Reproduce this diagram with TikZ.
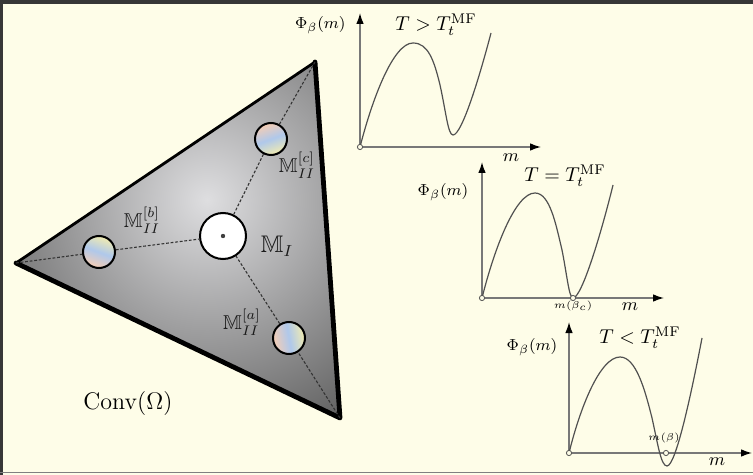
\documentclass[tikz,border=0pt]{standalone}
\usepackage{amssymb}
\usetikzlibrary{arrows.meta}
\definecolor{bg}{RGB}{254,253,232}
\definecolor{framec}{RGB}{55,55,55}
\definecolor{axisc}{RGB}{120,120,120}
\definecolor{curvec}{RGB}{80,80,80}
\definecolor{shinner}{RGB}{222,222,224}
\definecolor{shouter}{RGB}{95,95,95}
\definecolor{irA}{RGB}{245,205,180}
\definecolor{irB}{RGB}{175,200,235}
\definecolor{irC}{RGB}{242,236,175}
\tikzset{
  edgethin/.style={line width=1.4pt, line cap=round, line join=round},
  edgethick/.style={line width=2.4pt, line cap=round, line join=round},
  dashln/.style={line width=0.55pt, draw=black!80, dash pattern=on 1.4pt off 0.9pt},
  bigcirc/.style={circle, draw=black, line width=1pt, fill=white, minimum size=23pt, inner sep=0pt},
  smallcirc/.style={circle, draw=black, line width=1pt, minimum size=16pt, inner sep=0pt},
  irid/.style={top color=irA, bottom color=irC, middle color=irB, shading angle=#1},
  axisln/.style={draw=axisc, line width=0.7pt, -{Latex[length=5.5pt,width=3.8pt,color=black]}},
  curveln/.style={draw=curvec, line width=0.6pt},
  origdot/.style={circle, draw=curvec, line width=0.4pt, fill=bg, minimum size=2.6pt, inner sep=0pt},
  ttl/.style={font=\normalsize, inner sep=0pt},
  philbl/.style={font=\footnotesize, inner sep=0pt},
  mlbl/.style={font=\small, inner sep=0pt},
  tinylbl/.style={font=\fontsize{3.2}{4}\selectfont, inner sep=0pt},
  mlab/.style={font=\normalsize, inner sep=0pt, text=black!90}
}
\begin{document}
\begin{tikzpicture}[x=0.5pt,y=-0.5pt]
\useasboundingbox (0,0) rectangle (753,475);
\fill[bg] (0,0) rectangle (753,475);
% frame
\draw[framec, line width=2pt] (0,2) -- (753,2);
\draw[framec, line width=1.6pt] (1.6,0) -- (1.6,475);
\draw[black!50, line width=0.8pt] (0,472.5) -- (753,472.5);

% triangle
\coordinate (L) at (16,263);
\coordinate (T) at (315,62);
\coordinate (B) at (340,418);
\begin{scope}
  \clip (L) -- (T) -- (B) -- cycle;
  \shade[inner color=shinner, outer color=shouter] (207,200) circle (260);
\end{scope}
\draw[edgethin] (L) -- (T);
\draw[edgethick] (T) -- (B) -- (L);

% circles
\node[bigcirc] (MI) at (223,236) {};
\fill[black!75] (MI.center) circle (2.2);
\node[smallcirc, irid=20] (Mc) at (271,139) {};
\node[smallcirc, irid=160] (Mb) at (99,252) {};
\node[smallcirc, irid=100] (Ma) at (289,338) {};

\draw[dashln] (L) -- (Mb);
\draw[dashln] (Mb) -- (MI);
\draw[dashln] (T) -- (Mc);
\draw[dashln] (Mc) -- (MI);
\draw[dashln] (B) -- (Ma);
\draw[dashln] (Ma) -- (MI);

\node[mlab, font=\large] (lI) at (277,246) {$\mathbb{M}_I$};
\node[mlab] (lc) at (297,165) {$\mathbb{M}_{II}^{[c]}$};
\node[mlab] (lb) at (142,220) {$\mathbb{M}_{II}^{[b]}$};
\node[mlab] (la) at (242,322) {$\mathbb{M}_{II}^{[a]}$};
\node[font=\large, inner sep=0pt] (conv) at (128,403) {$\mathrm{Conv}(\Omega)$};

% plot 1
\coordinate (O1) at (360,147);
\coordinate (Y1) at (360,13);
\coordinate (X1) at (541,147);
\draw[axisln] (O1) -- (Y1);
\draw[axisln] (O1) -- (X1);
\draw[curveln] (O1) .. controls (372,100) and (393,43) .. (413,43)
  .. controls (428,43) and (434,60) .. (440,85)
  .. controls (446,112) and (448,135) .. (453,135)
  .. controls (462,135) and (480,75) .. (491,33);
\node[origdot] (o1) at (O1) {};
\node[philbl, anchor=east] (p1) at (346,25) {$\Phi_\beta(m)$};
\node[ttl] (t1) at (436,25) {$T > T_t^{\mathrm{MF}}$};
\node[mlbl] (m1) at (511,158) {$m$};

% plot 2
\coordinate (O2) at (482,298);
\coordinate (Y2) at (482,162);
\coordinate (X2) at (664,298);
\draw[axisln] (O2) -- (Y2);
\draw[axisln] (O2) -- (X2);
\draw[curveln] (O2) .. controls (494,250) and (515,193) .. (535,193)
  .. controls (550,193) and (556,225) .. (562,250)
  .. controls (567,275) and (569,298) .. (573,298)
  .. controls (582,298) and (602,230) .. (613,185);
\node[origdot] (o2) at (O2) {};
\node[origdot] (d2) at (573,298) {};
\node[philbl] (p2) at (443,192) {$\Phi_\beta(m)$};
\node[ttl] (t2) at (565,176) {$T = T_t^{\mathrm{MF}}$};
\node[mlbl] (m2) at (630,307) {$m$};
\node[tinylbl] (b2) at (573,306) {$m(\beta_c)$};

% plot 3
\coordinate (O3) at (569,453);
\coordinate (Y3) at (569,322);
\coordinate (X3) at (752,453);
\draw[axisln] (O3) -- (Y3);
\draw[axisln] (O3) -- (X3);
\draw[curveln] (O3) .. controls (580,408) and (600,357) .. (620,357)
  .. controls (636,357) and (645,390) .. (652,418)
  .. controls (658,445) and (661,466) .. (667,466)
  .. controls (676,466) and (692,390) .. (702,338);
\node[origdot] (o3) at (O3) {};
\node[origdot] (d3) at (666,453) {};
\node[philbl] (p3) at (532,347) {$\Phi_\beta(m)$};
\node[ttl] (t3) at (640,338) {$T < T_t^{\mathrm{MF}}$};
\node[mlbl] (m3) at (717,462) {$m$};
\node[tinylbl] (b3) at (664,438) {$m(\beta)$};
\end{tikzpicture}
\end{document}
